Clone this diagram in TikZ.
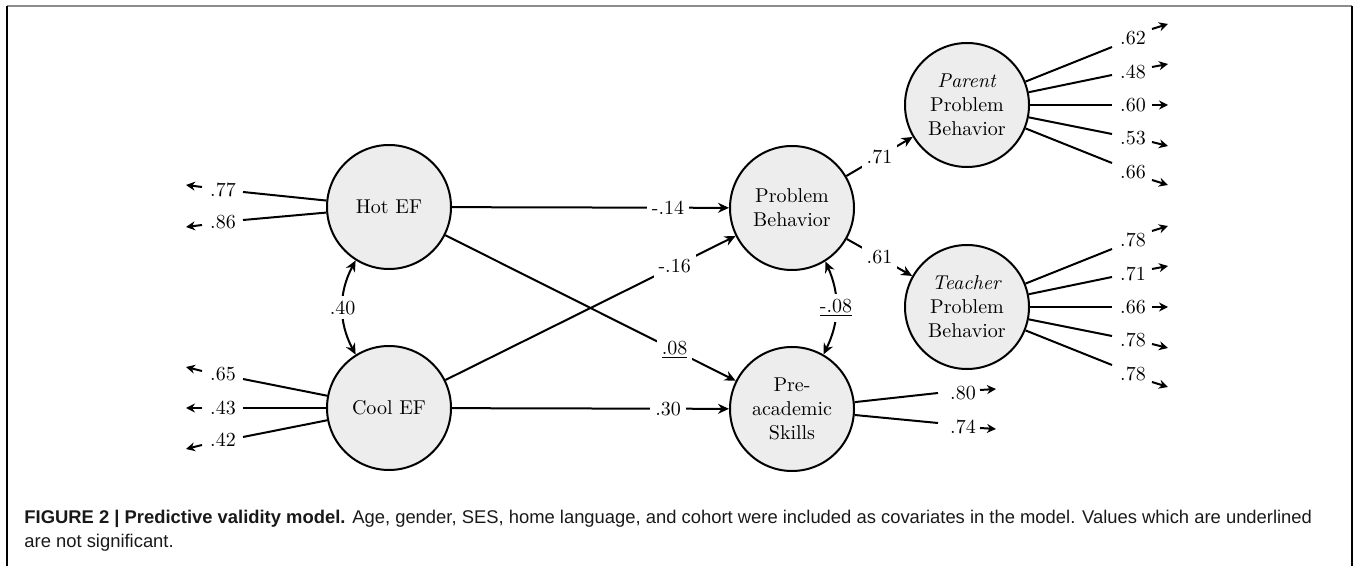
\documentclass[tikz,border=0pt]{standalone}
\usepackage{fontspec}
\newfontfamily\capfont{Liberation Sans}
\usetikzlibrary{arrows.meta}

\definecolor{latent}{rgb}{0.93,0.93,0.93}
\definecolor{framegray}{rgb}{0.55,0.55,0.55}

\tikzset{
  factor/.style={circle, draw=black, fill=latent, line width=1pt, minimum size=62pt, inner sep=0pt, align=center},
  effect/.style={line width=1pt, -{Stealth[length=5.5pt,width=5pt]}},
  covar/.style={line width=1pt, {Stealth[length=5.5pt,width=5pt]}-{Stealth[length=5.5pt,width=5pt]}},
  load/.style={line width=1pt},
  resid/.style={line width=1pt, -{Stealth[length=4.5pt,width=4.5pt]}},
  coef/.style={fill=white, inner sep=2.5pt},
  capline/.style={anchor=base west, inner sep=0pt, text=black!90, font=\capfont\fontsize{9.2}{12}\selectfont}
}

\begin{document}
\begin{tikzpicture}[x=0.5pt,y=-0.5pt] %1
            \useasboundingbox (0,0) rectangle (1356,566);
            \draw[framegray, line width=1pt] (7,6) -- (1352,6);
            \draw[black, line width=0.6pt] (7,6) -- (7,566);
            \draw[black, line width=0.6pt] (1352,6) -- (1352,566);

            % latent factors
            \node[factor] (hot) at (389,207) {Hot EF};
            \node[factor] (cool) at (389,408) {Cool EF};
            \node[factor] (prob) at (792,208) {Problem\\Behavior};
            \node[factor] (acad) at (792,409) {Pre-\\academic\\Skills};
            \node[factor] (parent) at (967,105) {\textit{Parent}\\Problem\\Behavior};
            \node[factor] (teacher) at (967,307) {\textit{Teacher}\\Problem\\Behavior};

            % paths
            \draw[effect] (hot) -- node[coef, pos=0.78] {-.14} (prob);
            \draw[effect] (cool) -- node[coef, pos=0.78] {.30} (acad);
            \draw[effect] (hot) -- node[coef, pos=0.79] {\underline{.08}} (acad);
            \draw[effect] (cool) -- node[coef, pos=0.79] {-.16} (prob);
            \draw[effect] (prob) -- node[coef, pos=0.5] {.71} (parent);
            \draw[effect] (prob) -- node[coef, pos=0.5] {.61} (teacher);
            \draw[covar] (hot.238) to[bend right=28] node[coef] {.40} (cool.122);
            \draw[covar] (prob.302) to[bend left=25] node[coef] {\underline{-.08}} (acad.60);

            % indicators
            \foreach \n/\ye/\yl/\ya/\yb/\v in {1/192/190/187/185/.77, 2/220/222/225/227/.86}{
                \coordinate (he\n) at (243,\ye);
                \draw[load] (hot) -- (he\n);
                \node (hl\n) at (223,\yl) {\v};
                \coordinate (ha\n) at (202,\ya);
                \coordinate (hb\n) at (186,\yb);
                \draw[resid] (ha\n) -- (hb\n);
            }
            \foreach \n/\ye/\yl/\ya/\yb/\v in {1/379/374/371/367/.65, 2/408/408/408/408/.43, 3/437/440/445/449/.42}{
                \coordinate (ce\n) at (243,\ye);
                \draw[load] (cool) -- (ce\n);
                \node (cl\n) at (223,\yl) {\v};
                \coordinate (ca\n) at (202,\ya);
                \coordinate (cb\n) at (186,\yb);
                \draw[resid] (ca\n) -- (cb\n);
            }
            \foreach \n/\ye/\yl/\ya/\yb/\v in {1/393/393/390/389/.80, 2/423/427/428/429/.74}{
                \coordinate (ae\n) at (938,\ye);
                \draw[load] (acad) -- (ae\n);
                \node (al\n) at (963,\yl) {\v};
                \coordinate (aa\n) at (980,\ya);
                \coordinate (ab\n) at (996,\yb);
                \draw[resid] (aa\n) -- (ab\n);
            }
            \foreach \n/\ye/\yl/\ya/\yb/\v in {1/47/38/29/24/.62, 2/75/72/67/64/.48, 3/105/105/105/105/.60, 4/134/138/142/146/.53, 5/163/172/180/185/.66}{
                \coordinate (pe\n) at (1112,\ye);
                \draw[load] (parent) -- (pe\n);
                \node (pl\n) at (1133,\yl) {\v};
                \coordinate (pa\n) at (1152,\ya);
                \coordinate (pb\n) at (1168,\yb);
                \draw[resid] (pa\n) -- (pb\n);
            }
            \foreach \n/\ye/\yl/\ya/\yb/\v in {1/249/240/231/226/.78, 2/277/274/269/266/.71, 3/307/307/307/307/.66, 4/336/340/344/348/.78, 5/365/374/382/387/.78}{
                \coordinate (te\n) at (1112,\ye);
                \draw[load] (teacher) -- (te\n);
                \node (tl\n) at (1133,\yl) {\v};
                \coordinate (ta\n) at (1152,\ya);
                \coordinate (tb\n) at (1168,\yb);
                \draw[resid] (ta\n) -- (tb\n);
            }

            % caption
            \node[capline] (cap1) at (24,524) {\textbf{FIGURE 2 | Predictive validity model.} Age, gender, SES, home language, and cohort were included as covariates in the model. Values which are underlined};
            \node[capline] (cap2) at (24,548) {are not significant.};
        \end{tikzpicture}
\end{document}
